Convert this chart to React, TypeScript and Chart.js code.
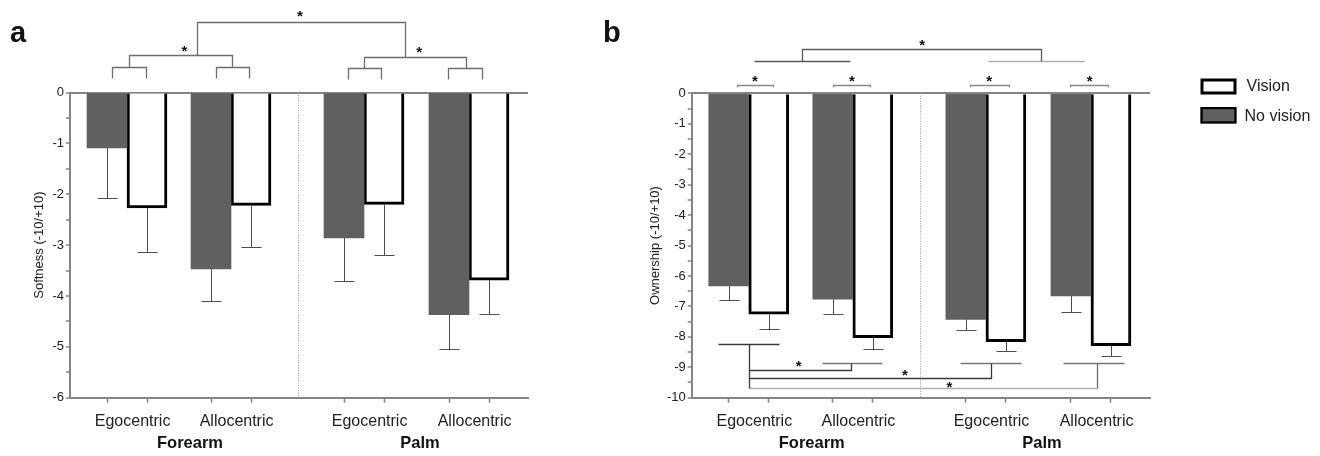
import React, { useEffect, useRef } from 'react';
import { Chart, registerables } from 'chart.js';

Chart.register(...registerables);

// ---------- data ----------
const conditions = ['Egocentric', 'Allocentric', 'Egocentric', 'Allocentric'];
const bodySites = ['Forearm', 'Palm'];
const seriesNames = ['Vision', 'No vision'];

const softnessNoVision = [-1.09, -3.47, -2.86, -4.37];
const softnessNoVisionErr = [0.98, 0.62, 0.85, 0.68];
const softnessVision = [-2.27, -2.22, -2.2, -3.69];
const softnessVisionErr = [0.86, 0.81, 0.99, 0.66];

const ownershipNoVision = [-6.33, -6.76, -7.43, -6.66];
const ownershipNoVisionErr = [0.47, 0.49, 0.36, 0.52];
const ownershipVision = [-7.26, -8.03, -8.16, -8.29];
const ownershipVisionErr = [0.48, 0.38, 0.31, 0.34];

const softnessMajorTicks = [0, -1, -2, -3, -4, -5, -6];
const ownershipMajorTicks = [0, -1, -2, -3, -4, -5, -6, -7, -8, -9, -10];

// ---------- layout (x in bar-width units) ----------
const X_MAX = 11.45;
const PAIR_CENTERS = [1.425, 4.025, 7.35, 9.975];
const LABEL_SHIFT = 0.14;
const GROUP_LABEL_X = [3.0, 8.75];
const DIVIDER_X = 5.7;

// significance annotations in data coordinates
type Line = { pts: number[][]; color: string };
const bracketsA: Line[] = [
  { pts: [[1.06, 0.28], [1.06, 0.495], [1.9, 0.495], [1.9, 0.28]], color: '#6e6e6e' },
  { pts: [[3.64, 0.28], [3.64, 0.495], [4.48, 0.495], [4.48, 0.28]], color: '#6e6e6e' },
  { pts: [[6.94, 0.26], [6.94, 0.476], [7.78, 0.476], [7.78, 0.26]], color: '#6e6e6e' },
  { pts: [[9.46, 0.26], [9.46, 0.476], [10.29, 0.476], [10.29, 0.26]], color: '#6e6e6e' },
  { pts: [[1.48, 0.495], [1.48, 0.737], [4.06, 0.737], [4.06, 0.495]], color: '#6e6e6e' },
  { pts: [[7.36, 0.476], [7.36, 0.7], [9.9, 0.7], [9.9, 0.476]], color: '#6e6e6e' },
  { pts: [[3.17, 0.737], [3.17, 1.39], [8.375, 1.39], [8.375, 0.7]], color: '#6e6e6e' },
];
const starsA = [[2.86, 0.9], [8.73, 0.87], [5.75, 1.58]];

const bracketsB: Line[] = [
  { pts: [[1.125, 0.22], [1.125, 0.27], [2.04, 0.27], [2.04, 0.22]], color: '#8a8a8a' },
  { pts: [[3.54, 0.22], [3.54, 0.27], [4.465, 0.27], [4.465, 0.22]], color: '#8a8a8a' },
  { pts: [[6.96, 0.22], [6.96, 0.27], [7.92, 0.27], [7.92, 0.22]], color: '#8a8a8a' },
  { pts: [[9.46, 0.22], [9.46, 0.27], [10.4, 0.27], [10.4, 0.22]], color: '#8a8a8a' },
  { pts: [[1.565, 1.07], [3.96, 1.07]], color: '#5a5a5a' },
  { pts: [[7.415, 1.07], [9.81, 1.07]], color: '#b0b0b0' },
  { pts: [[2.75, 1.07], [2.75, 1.465], [8.715, 1.465], [8.715, 1.07]], color: '#5a5a5a' },
  { pts: [[0.665, -8.23], [2.18, -8.23]], color: '#3a3a3a' },
  { pts: [[3.25, -8.86], [4.765, -8.86]], color: '#7a7a7a' },
  { pts: [[6.71, -8.86], [8.225, -8.86]], color: '#7a7a7a' },
  { pts: [[9.275, -8.86], [10.79, -8.86]], color: '#7a7a7a' },
  { pts: [[1.425, -9.67], [10.125, -9.67]], color: '#b0b0b0' },
  { pts: [[10.125, -9.67], [10.125, -8.86]], color: '#6a6a6a' },
  { pts: [[1.425, -8.23], [1.425, -9.67]], color: '#3a3a3a' },
  { pts: [[1.425, -9.1], [3.975, -9.1], [3.975, -8.86]], color: '#3a3a3a' },
  { pts: [[1.425, -9.34], [7.475, -9.34], [7.475, -8.86]], color: '#3a3a3a' },
];
const starsB = [
  [1.58, 0.53], [4.0, 0.53], [7.43, 0.53], [9.94, 0.53], [5.76, 1.72],
  [2.675, -8.84], [5.325, -9.12], [6.44, -9.51],
];

// ---------- style ----------
const FONT = "'Liberation Sans', Arial, sans-serif";
const AXIS = '#858585';
const DARK = '#606060';
const TEXT = '#222222';
const ERR = '#4d4d4d';

type PanelCfg = {
  letter: string;
  letterX: number;
  yTitle: string;
  majorTicks: number[];
  noVision: number[];
  noVisionErr: number[];
  vision: number[];
  visionErr: number[];
  brackets: Line[];
  stars: number[][];
  yWidth: number;
  titlePad: number;
  padTop: number;
  padRight: number;
  legendX?: number;
};

function buildXTicks() {
  const t: { value: number; bar: boolean; label: string }[] = [];
  PAIR_CENTERS.forEach((c, i) => {
    t.push({ value: c - 0.5, bar: true, label: '' });
    t.push({ value: c + 0.5, bar: true, label: '' });
    t.push({ value: c + LABEL_SHIFT, bar: false, label: conditions[i] });
  });
  return t.sort((a, b) => a.value - b.value);
}

function makeConfig(p: PanelCfg): any {
  const xTicks = buildXTicks();
  const yMin = p.majorTicks[p.majorTicks.length - 1];
  const yTicks: number[] = [];
  p.majorTicks.forEach((v, i) => {
    yTicks.push(v);
    if (i < p.majorTicks.length - 1) yTicks.push((v + p.majorTicks[i + 1]) / 2);
  });
  yTicks.sort((a, b) => a - b);

  const crisp = (v: number) => Math.round(v) + 0.5;

  const plugin = {
    id: 'annot',
    beforeDatasetsDraw(chart: any) {
      const { ctx, scales } = chart;
      const x = crisp(scales.x.getPixelForValue(DIVIDER_X));
      ctx.save();
      ctx.strokeStyle = '#9a9a9a';
      ctx.lineWidth = 1;
      ctx.setLineDash([1, 1.5]);
      ctx.beginPath();
      ctx.moveTo(x, scales.y.getPixelForValue(0));
      ctx.lineTo(x, scales.y.getPixelForValue(yMin));
      ctx.stroke();
      ctx.restore();
    },
    afterDatasetsDraw(chart: any) {
      const { ctx, scales } = chart;
      const errs = [p.noVisionErr, p.visionErr];
      ctx.save();
      ctx.strokeStyle = ERR;
      ctx.lineWidth = 1;
      chart.data.datasets.forEach((ds: any, di: number) => {
        const meta = chart.getDatasetMeta(di);
        meta.data.forEach((el: any, i: number) => {
          const v = ds.data[i].y;
          const e = errs[di][i];
          const x = crisp(el.x);
          const y0 = el.y;
          const y1 = crisp(scales.y.getPixelForValue(v - e));
          ctx.beginPath();
          ctx.moveTo(x, y0);
          ctx.lineTo(x, y1);
          ctx.moveTo(x - 10, y1);
          ctx.lineTo(x + 10, y1);
          ctx.stroke();
        });
      });
      // brackets
      p.brackets.forEach((b) => {
        ctx.strokeStyle = b.color;
        ctx.lineWidth = 1.3;
        ctx.beginPath();
        b.pts.forEach((pt, k) => {
          const px = crisp(scales.x.getPixelForValue(pt[0]));
          const py = crisp(scales.y.getPixelForValue(pt[1]));
          if (k === 0) ctx.moveTo(px, py);
          else ctx.lineTo(px, py);
        });
        ctx.stroke();
      });
      ctx.fillStyle = '#111';
      ctx.font = `bold 15px ${FONT}`;
      ctx.textAlign = 'center';
      ctx.textBaseline = 'alphabetic';
      p.stars.forEach((s) => {
        const px = scales.x.getPixelForValue(s[0]);
        const py = scales.y.getPixelForValue(s[1]);
        ctx.fillText('*', px, py + 8.8);
      });
      ctx.restore();
    },
    afterDraw(chart: any) {
      const { ctx } = chart;
      ctx.save();
      ctx.fillStyle = '#111';
      ctx.font = `bold 29px ${FONT}`;
      ctx.textAlign = 'left';
      ctx.textBaseline = 'alphabetic';
      ctx.fillText(p.letter, p.letterX, 42);
      if (p.legendX !== undefined) {
        const lx = p.legendX;
        // Vision
        ctx.fillStyle = '#fff';
        ctx.fillRect(lx, 78.5, 36, 16);
        ctx.strokeStyle = '#000';
        ctx.lineWidth = 3;
        ctx.strokeRect(lx + 1.5, 80, 33, 13);
        // No vision
        ctx.fillStyle = DARK;
        ctx.fillRect(lx, 107, 36, 16.5);
        ctx.lineWidth = 2.2;
        ctx.strokeRect(lx + 1.1, 108.1, 33.8, 14.3);
        ctx.fillStyle = TEXT;
        ctx.font = `16px ${FONT}`;
        ctx.textBaseline = 'middle';
        ctx.fillText(seriesNames[0], lx + 46, 87);
        ctx.fillText(seriesNames[1], lx + 44, 116.5);
      }
      ctx.restore();
    },
  };

  return {
    type: 'bar',
    data: {
      datasets: [
        {
          label: seriesNames[1],
          data: p.noVision.map((v, i) => ({ x: PAIR_CENTERS[i] - 0.5, y: v })),
          backgroundColor: DARK,
          borderWidth: 0,
          barThickness: 40,
          grouped: false,
        },
        {
          label: seriesNames[0],
          data: p.vision.map((v, i) => ({ x: PAIR_CENTERS[i] + 0.5, y: v })),
          backgroundColor: '#ffffff',
          borderColor: '#000000',
          borderWidth: 3,
          barThickness: 40,
          grouped: false,
        },
      ],
    },
    options: {
      responsive: false,
      animation: false,
      layout: { padding: { top: p.padTop, right: p.padRight, left: 0, bottom: 0 } },
      plugins: { legend: { display: false }, tooltip: { enabled: false } },
      scales: {
        x: {
          type: 'linear',
          min: 0,
          max: X_MAX,
          offset: false,
          weight: 0,
          grid: {
            display: true,
            drawOnChartArea: false,
            drawTicks: true,
            tickLength: 5,
            offset: false,
            tickWidth: 1.5,
            tickColor: (c: any) => (c.tick && c.tick.bar ? AXIS : 'rgba(0,0,0,0)'),
          },
          border: { display: true, color: AXIS, width: 2 },
          afterBuildTicks: (s: any) => {
            s.ticks = xTicks.map((t) => ({ value: t.value, bar: t.bar }));
          },
          ticks: {
            autoSkip: false,
            maxRotation: 0,
            minRotation: 0,
            padding: 9,
            color: TEXT,
            font: { family: FONT, size: 16 },
            callback: (_v: any, i: number) => xTicks[i].label,
          },
          afterFit: (s: any) => {
            s.height = 32;
            s.paddingLeft = 0;
            s.paddingRight = 0;
          },
        },
        x2: {
          type: 'linear',
          position: 'bottom',
          min: 0,
          max: X_MAX,
          offset: false,
          weight: 1,
          grid: { display: false, drawTicks: false, drawOnChartArea: false },
          border: { display: false },
          afterBuildTicks: (s: any) => {
            s.ticks = GROUP_LABEL_X.map((v) => ({ value: v }));
          },
          ticks: {
            autoSkip: false,
            maxRotation: 0,
            padding: 3.5,
            color: '#111',
            font: { family: FONT, size: 16.5, weight: 'bold' },
            callback: (_v: any, i: number) => bodySites[i],
          },
          afterFit: (s: any) => {
            s.height = 456 - 397.7 - 32;
            s.paddingLeft = 0;
            s.paddingRight = 0;
          },
        },
        y: {
          type: 'linear',
          min: yMin,
          max: 0,
          afterBuildTicks: (s: any) => {
            s.ticks = yTicks.map((v) => ({ value: v }));
          },
          ticks: {
            autoSkip: false,
            padding: 2,
            color: TEXT,
            font: { family: FONT, size: 13 },
            callback: (v: any) => {
              const r = Math.round(v);
              const isMajor = Math.abs(v - r) < 1e-6 && p.majorTicks.includes(r);
              return isMajor ? String(r === 0 ? 0 : r) : '';
            },
          },
          grid: {
            drawOnChartArea: true,
            color: (c: any) => (c.tick && Math.abs(c.tick.value) < 1e-9 ? AXIS : 'rgba(0,0,0,0)'),
            lineWidth: 2,
            tickLength: 4,
            tickColor: AXIS,
            tickWidth: 1.5,
          },
          border: { display: true, color: AXIS, width: 2 },
          title: {
            display: true,
            text: p.yTitle,
            color: TEXT,
            font: { family: FONT, size: 13 },
            padding: { top: p.titlePad, bottom: 0 },
          },
          afterFit: (s: any) => {
            s.width = p.yWidth;
            s.paddingTop = 0;
            s.paddingBottom = 0;
          },
        },
      },
    },
    plugins: [plugin],
  };
}

function Panel({ cfg, left, width }: { cfg: PanelCfg; left: number; width: number }) {
  const ref = useRef<HTMLCanvasElement | null>(null);
  useEffect(() => {
    if (!ref.current) return;
    const chart = new Chart(ref.current, makeConfig(cfg));
    return () => chart.destroy();
  }, []);
  return (
    <canvas
      ref={ref}
      width={width}
      height={456}
      style={{ position: 'absolute', left, top: 0, width, height: 456, display: 'block' }}
    />
  );
}

const panelA: PanelCfg = {
  letter: 'a',
  letterX: 10,
  yTitle: 'Softness (-10/+10)',
  majorTicks: softnessMajorTicks,
  noVision: softnessNoVision,
  noVisionErr: softnessNoVisionErr,
  vision: softnessVision,
  visionErr: softnessVisionErr,
  brackets: bracketsA,
  stars: starsA,
  yWidth: 70,
  titlePad: 31.5,
  padTop: 92.5,
  padRight: 600 - 528,
};

const panelB: PanelCfg = {
  letter: 'b',
  letterX: 3,
  yTitle: 'Ownership (-10/+10)',
  majorTicks: ownershipMajorTicks,
  noVision: ownershipNoVision,
  noVisionErr: ownershipNoVisionErr,
  vision: ownershipVision,
  visionErr: ownershipVisionErr,
  brackets: bracketsB,
  stars: starsB,
  yWidth: 91.7,
  titlePad: 47.2,
  padTop: 93.3,
  padRight: 720 - 550,
  legendX: 600.5,
};

export default function App() {
  return (
    <div
      style={{
        position: 'absolute',
        left: 0,
        top: 0,
        width: 1320,
        height: 456,
        background: '#ffffff',
        overflow: 'hidden',
      }}
    >
      <Panel cfg={panelA} left={0} width={600} />
      <Panel cfg={panelB} left={600} width={720} />
    </div>
  );
}
